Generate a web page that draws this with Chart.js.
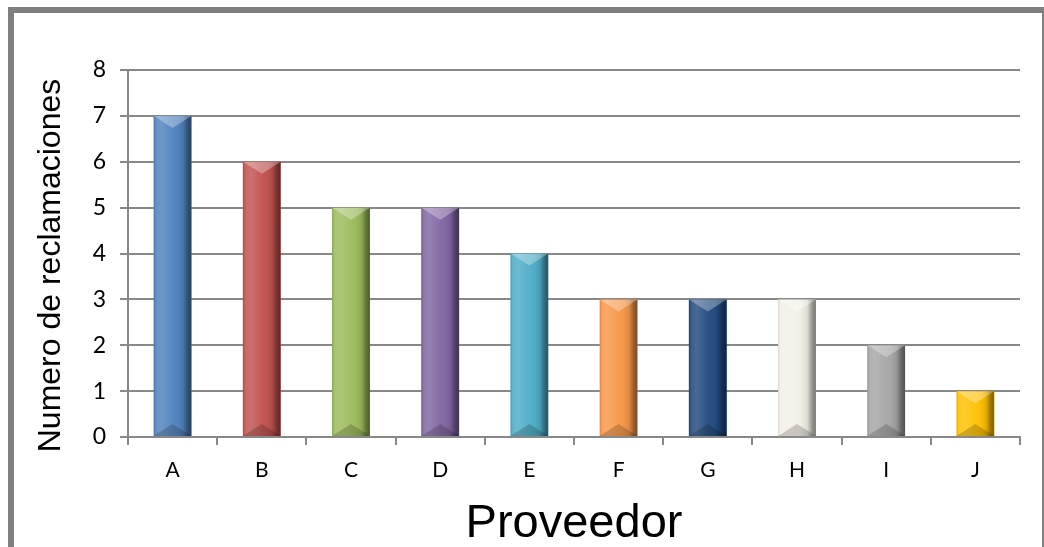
<!DOCTYPE html>
<html>
<head>
<meta charset="utf-8">
<title>Reclamaciones por proveedor</title>
<script src="https://cdn.jsdelivr.net/npm/chart.js@4.4.1/dist/chart.umd.min.js"></script>
<style>
html, body { margin: 0; padding: 0; background: #fff; overflow: hidden; }
#wrap { position: relative; width: 1044px; height: 547px; overflow: hidden; }
#frame { position: absolute; left: 8px; top: 7px; width: 1040px; height: 600px; box-sizing: border-box; border: 6px solid #7f7f7f; }
#chart { position: absolute; left: 0; top: 0; }
</style>
</head>
<body>
<div id="wrap">
  <div id="frame"></div>
  <canvas id="chart" width="1044" height="547"></canvas>
</div>
<script>
// datos
var proveedores = ['A', 'B', 'C', 'D', 'E', 'F', 'G', 'H', 'I', 'J'];
var reclamaciones = [7, 6, 5, 5, 4, 3, 3, 3, 2, 1];
var marcasY = [0, 1, 2, 3, 4, 5, 6, 7, 8];
var coloresBarra = ['#4f81bd', '#c0504d', '#9bbb59', '#8064a2', '#4bacc6',
                    '#f79646', '#1f497d', '#f2f0e6', '#a5a5a5', '#ffc000'];
var tituloX = 'Proveedor';
var tituloY = 'Numero de reclamaciones';

var gris = '#888888';

// sombreado tipo bisel sobre cada columna
var bisel = {
  id: 'bisel',
  afterDatasetsDraw: function (chart) {
    var ctx = chart.ctx;
    chart.getDatasetMeta(0).data.forEach(function (bar) {
      var p = bar.getProps(['x', 'y', 'base', 'width'], true);
      var l = p.x - p.width / 2, r = p.x + p.width / 2;
      var t = p.y, b = p.base, w = p.width, h = b - t;
      var bev = Math.min(12, h / 3);
      ctx.save();
      ctx.beginPath();
      ctx.rect(l, t, w, h);
      ctx.clip();

      var g = ctx.createLinearGradient(l, 0, r, 0);
      g.addColorStop(0, 'rgba(0,0,0,0.10)');
      g.addColorStop(0.06, 'rgba(255,255,255,0.12)');
      g.addColorStop(0.2, 'rgba(255,255,255,0.18)');
      g.addColorStop(0.55, 'rgba(255,255,255,0.04)');
      g.addColorStop(0.78, 'rgba(0,0,0,0.10)');
      g.addColorStop(0.9, 'rgba(0,0,0,0.38)');
      g.addColorStop(1, 'rgba(0,0,0,0.5)');
      ctx.fillStyle = g;
      ctx.fillRect(l, t, w, h);

      // chaflan superior
      ctx.beginPath();
      ctx.moveTo(l, t); ctx.lineTo(r, t); ctx.lineTo(p.x, t + bev);
      ctx.closePath();
      ctx.fillStyle = 'rgba(255,255,255,0.3)';
      ctx.fill();

      // chaflan inferior
      ctx.beginPath();
      ctx.moveTo(l, b); ctx.lineTo(r, b); ctx.lineTo(p.x, b - bev);
      ctx.closePath();
      ctx.fillStyle = 'rgba(0,0,0,0.18)';
      ctx.fill();
      ctx.restore();
    });
  }
};

// titulos de los ejes
var titulos = {
  id: 'titulos',
  afterDraw: function (chart) {
    var ctx = chart.ctx, area = chart.chartArea;
    ctx.save();
    ctx.fillStyle = '#000';
    ctx.textAlign = 'center';
    ctx.textBaseline = 'alphabetic';
    ctx.font = '47px "Liberation Sans", Arial, sans-serif';
    ctx.fillText(tituloX, (area.left + area.right) / 2, area.bottom + 100);
    ctx.translate(area.left - 68, (area.top + area.bottom) / 2 + 12);
    ctx.rotate(-Math.PI / 2);
    ctx.font = '32px "Liberation Sans", Arial, sans-serif';
    ctx.fillText(tituloY, 0, 0);
    ctx.restore();
  }
};

new Chart(document.getElementById('chart'), {
  type: 'bar',
  data: {
    labels: proveedores,
    datasets: [{
      data: reclamaciones,
      backgroundColor: coloresBarra,
      borderWidth: 0,
      barPercentage: 0.425,
      categoryPercentage: 1
    }]
  },
  options: {
    responsive: false,
    animation: false,
    layout: { padding: { left: 0, right: 24, top: 70, bottom: 0 } },
    plugins: { legend: { display: false }, tooltip: { enabled: false } },
    scales: {
      x: {
        grid: { drawOnChartArea: false, drawTicks: true, tickLength: 8, color: gris, lineWidth: 2 },
        border: { display: true, color: gris, width: 2 },
        ticks: { color: '#000', font: { family: 'Lato', size: 21 }, padding: 13 },
        afterFit: function (s) { s.height = 110; }
      },
      y: {
        min: marcasY[0],
        max: marcasY[marcasY.length - 1],
        ticks: { stepSize: 1, color: '#000', font: { family: 'Lato', size: 23 }, padding: 14 },
        grid: { color: gris, lineWidth: 2, tickLength: 8 },
        border: { color: gris, width: 2 },
        afterFit: function (s) { s.width = 128; }
      }
    }
  },
  plugins: [bisel, titulos]
});
</script>
</body>
</html>
